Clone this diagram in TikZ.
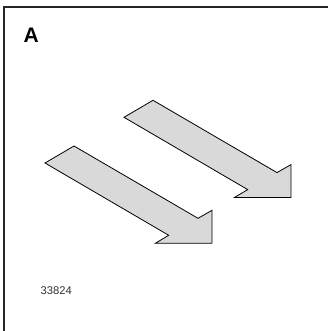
\documentclass[tikz,border=0pt]{standalone}
\usepackage{fontspec}
\setmainfont{Liberation Sans}
\usetikzlibrary{calc}

\begin{document}
\begin{tikzpicture}[x=1pt, y=-1pt]
    \useasboundingbox (0,0) rectangle (328,331);
    \tikzset{flowarrow/.style={draw=black, line width=0.8pt, line join=miter, fill=gray!30}}
    % Draw the frame (top and left edges only)
    \draw[line width=1.3pt, black!85] (328,7) coordinate (F1) -- (4,7) coordinate (F0) -- (4,331) coordinate (F2);
    % Panel letter and figure number
    \node[anchor=base west, inner sep=0pt, font=\fontsize{21}{21}\selectfont\bfseries] (panel) at (23.5,42.3) {A};
    \node[anchor=base west, inner sep=0pt, text=black!80, font=\fontsize{11.2}{12}\selectfont] (fignum) at (40.5,294) {33824};
    %
    \begin{scope}[shift={(124,117.3)}]
        \def\w{29}          % tail width (x)
        \def\d{17}          % tail width (y)
        \def\hx{167}        % head tip x
        % Draw the upper arrow
        \draw[flowarrow] (0,0) coordinate (U1) -- (\w,-\d) coordinate (U2) -- (153,55.3) -- (\hx,47.3) coordinate (U3) -- (\hx,80.2) coordinate (U4) -- (110.5,80.2) -- (123.7,72.3) -- cycle;
    \end{scope}
    %
    \begin{scope}[shift={(45,163)}]
        \def\w{29}          % tail width (x)
        \def\d{17}          % tail width (y)
        \def\hx{167}        % head tip x
        % Draw the lower arrow
        \draw[flowarrow] (0,0) coordinate (D1) -- (\w,-\d) coordinate (D2) -- (153,55.3) -- (\hx,47.3) coordinate (D3) -- (\hx,80.2) coordinate (D4) -- (110.5,80.2) -- (123.7,72.3) -- cycle;
    \end{scope}
\end{tikzpicture}
\end{document}
